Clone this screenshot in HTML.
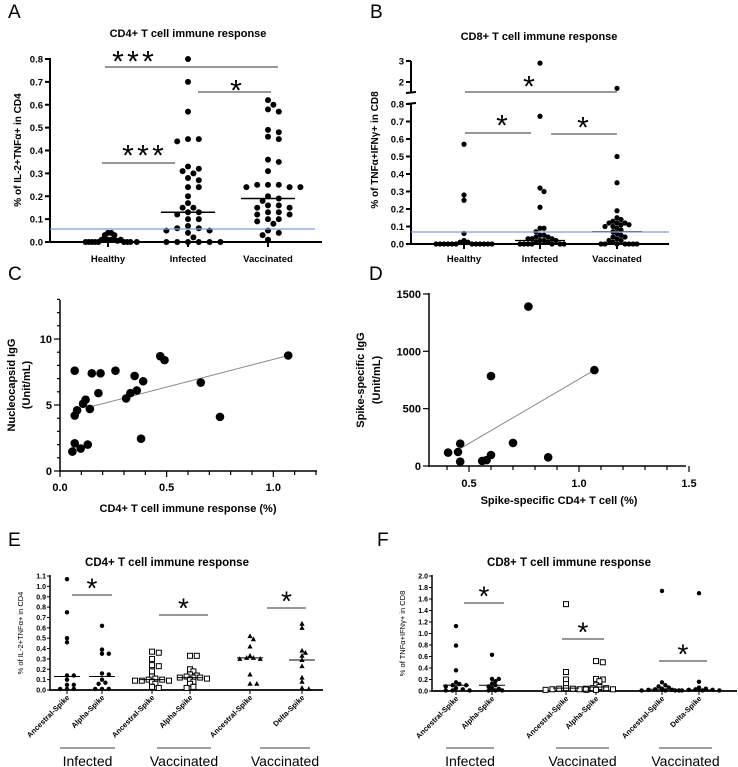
<!DOCTYPE html>
<html><head><meta charset="utf-8"><style>
body{margin:0;background:#fff}
svg{display:block;font-family:"Liberation Sans",Arial,sans-serif}
.b{font-weight:bold}
</style></head><body>
<svg id="fig" width="738" height="767" viewBox="0 0 738 767">
<g id="root"></g>
</svg>
<script>
// ---- Panel A data ----
const catsA = ["Healthy","Infected","Vaccinated"];
const healthyA = [0.04,0.04,0.03,0.03,0.01,0.01,0.01,0.01,0.01,0.01,0,0,0,0,0,0,0,0,0,0.005];
const infectedA = [0.80,0.70,0.57,0.45,0.45,0.44,0.33,0.32,0.31,0.30,0.28,0.27,0.24,0.24,0.20,0.17,0.15,0.15,0.13,0.13,0.12,0.10,0.10,0.07,0.06,0.06,0.05,0.05,0.04,0.02,0,0,0,0,0,0];
const vaccinatedA = [0.62,0.60,0.58,0.57,0.49,0.48,0.46,0.45,0.36,0.35,0.31,0.25,0.25,0.24,0.24,0.24,0.25,0.20,0.19,0.18,0.16,0.16,0.15,0.15,0.13,0.13,0.12,0.12,0.10,0.10,0.09,0.08,0.05,0.04,0.03,0.01];
const medA = [0, 0.13, 0.19];
const ticksA = [0,0.1,0.2,0.3,0.4,0.5,0.6,0.7,0.8];
// ---- Panel B data ----
const healthyB = [0.57,0.28,0.25,0.06,0.02,0.01,0.01,0,0,0,0,0,0,0,0,0,0,0,0];
const infectedB = [2.9,0.73,0.32,0.30,0.21,0.09,0.09,0.07,0.05,0.05,0.04,0.04,0.03,0.03,0.03,0.02,0.02,0.02,0.01,0.01,0,0,0,0,0,0,0];
const vaccinatedB = [1.7,0.50,0.35,0.19,0.15,0.14,0.13,0.12,0.12,0.12,0.11,0.11,0.10,0.10,0.09,0.08,0.07,0.06,0.05,0.04,0.04,0.03,0.02,0.02,0.01,0,0,0,0,0,0,0];
const medB = [0, 0.02, 0.07];
const ticksBLow = [0,0.1,0.2,0.3,0.4,0.5,0.6,0.7,0.8];
const ticksBHigh = [2,3];
// ---- Panel C data ----
const cX = [0.058,0.069,0.097,0.13,0.069,0.069,0.08,0.108,0.12,0.14,0.149,0.19,0.18,0.26,0.31,0.33,0.35,0.36,0.39,0.38,0.47,0.49,0.66,0.75,1.07];
const cY = [1.47,2.1,1.7,2.0,7.6,4.2,4.6,5.1,5.4,4.7,7.4,7.4,5.9,7.6,5.5,5.9,7.2,6.1,6.8,2.45,8.7,8.4,6.7,4.1,8.75];
const fitC = [[0.14,4.85],[1.07,8.75]];
const ticksCX = [0,0.5,1.0];
const ticksCY = [0,5,10];
// ---- Panel D data ----
const dX = [0.405,0.45,0.46,0.46,0.56,0.58,0.60,0.60,0.70,0.77,0.86,1.07];
const dY = [117,122,195,38,44,52,96,784,201,1390,76,836];
const fitD = [[0.45,140],[1.07,836]];
const ticksDX = [0.5,1.0,1.5];
const ticksDY = [0,500,1000,1500];
// ---- Panel E data ----
const catsE = ["Ancestral-Spike","Alpha-Spike","Ancestral-Spike","Alpha-Spike","Ancestral-Spike","Delta-Spike"];
const e0 = [1.07,0.75,0.50,0.46,0.14,0.14,0.10,0.05,0.05,0.01,0.01,0.01];
const e1 = [0.62,0.39,0.35,0.35,0.16,0.15,0.10,0.07,0.06,0.01,0.01,0.01];
const e2 = [0.37,0.36,0.30,0.24,0.23,0.18,0.13,0.11,0.10,0.10,0.09,0.09,0.09,0.08,0.06,0.03,0.02];
const e3 = [0.33,0.33,0.20,0.18,0.15,0.14,0.13,0.12,0.12,0.12,0.11,0.10,0.08,0.06,0.03,0.02];
const e4 = [0.52,0.49,0.42,0.33,0.31,0.31,0.30,0.30,0.15,0.06,0.06];
const e5 = [0.64,0.60,0.38,0.36,0.33,0.29,0.23,0.12,0.08,0.02,0.01];
const medE = [0.13,0.13,0.10,0.12,0.31,0.29];
const ticksE = [0,0.1,0.2,0.3,0.4,0.5,0.6,0.7,0.8,0.9,1.0,1.1];
// ---- Panel F data ----
const f0 = [1.13,0.79,0.36,0.15,0.12,0.10,0.10,0.08,0.05,0.03,0.01,0.01,0.01];
const f1 = [0.63,0.21,0.21,0.17,0.13,0.10,0.08,0.05,0.04,0.01,0.01,0.01];
const f2 = [1.51,0.33,0.20,0.12,0.05,0.04,0.04,0.03,0.03,0.02,0.02];
const f3 = [0.52,0.50,0.21,0.20,0.17,0.10,0.07,0.05,0.05,0.04,0.03,0.02];
const f4 = [1.74,0.15,0.10,0.08,0.06,0.04,0.03,0.02,0.02,0.01,0.01,0.01];
const f5 = [1.70,0.16,0.06,0.04,0.03,0.02,0.02,0.01,0.01,0.01,0.01];
const medF = [0.10,0.10,0.05,0.07,0.03,0.02];
const ticksF = [0,0.2,0.4,0.6,0.8,1.0,1.2,1.4,1.6,1.8,2.0];
const groupLabels = ["Infected","Vaccinated","Vaccinated"];

const NS="http://www.w3.org/2000/svg";
const root=document.getElementById('root');
function el(tag,attrs,parent,txt){const e=document.createElementNS(NS,tag);for(const k in attrs)e.setAttribute(k,attrs[k]);if(txt!==undefined)e.textContent=txt;(parent||root).appendChild(e);return e;}
function grp(name){const g=el('g',{});return g;}
function line(g,x1,y1,x2,y2,st,w){return el('line',{x1,y1,x2,y2,stroke:st||'#000','stroke-width':w||1},g);}
function txt(g,x,y,s,size,opts){const o=Object.assign({x,y,'font-size':size,fill:'#000'},opts||{});return el('text',o,g,s);}
function swarm(vals,cx,ys,minD,step){
  const placed=[];const out=[];
  const sorted=vals.slice().sort((a,b)=>b-a);
  for(const v of sorted){const y=ys(v);let x=cx;
    for(let i=0;i<80;i++){const off=(i===0?0:Math.ceil(i/2)*step*(i%2?1:-1));x=cx+off;
      if(placed.every(p=>Math.hypot(p[0]-x,p[1]-y)>=minD))break;}
    placed.push([x,y]);out.push([x,y,v]);}
  return out;}
function star(g,x,y,size){const t=txt(g,x,y+size*0.45,'*',size,{'text-anchor':'middle'});}
function sig(g,x1,x2,y,sx,sy,n,size){line(g,x1,y,x2,y,'#777',1.5);const s=size||30;star(g,sx,sy,s);if(n>1){star(g,sx-15,sy,s);star(g,sx+15,sy,s);}}
function letter(g,s,x,y){const t=txt(g,x,y,s,19);}

// ================= Panel A =================
(function(){
const g=grp('panel-a');letter(g,'A',8,18);
const ya=v=>242-v*228.75;const xa=[108,188,268];
const t=txt(g,188,37,'CD4+ T cell immune response',11,{'text-anchor':'middle','class':'b'});
line(g,50,58,50,243,'#000',2);line(g,49,242,322,242,'#000',2);
ticksA.forEach(v=>{line(g,45,ya(v),50,ya(v),'#000',2);txt(g,43,ya(v)+3.5,v.toFixed(1),9.5,{'text-anchor':'end','class':'b'});});
catsA.forEach((c,i)=>{line(g,xa[i],242,xa[i],247,'#000',2);const l=txt(g,xa[i],262,c,9.5,{'text-anchor':'middle','class':'b'});});
const yl=txt(g,0,0,'% of IL-2+TNFα+ in CD4',10,{'text-anchor':'middle','class':'b',transform:'translate(21,150) rotate(-90)'});
[healthyA,infectedA,vaccinatedA].forEach((arr,i)=>{swarm(arr,xa[i],ya,i===0?3.2:6,i===0?3.2:5.4).forEach(p=>{const c=el('circle',{cx:p[0],cy:p[1],r:3,fill:'#000'},g);});
 if(i>0){const m=line(g,xa[i]-27,ya(medA[i]),xa[i]+27,ya(medA[i]),'#000',1.5);}});
const bl=line(g,50,229,315,229,'#7b9fe0',1.3);
sig(g,105,278,67,133,58,3);sig(g,198,271,92,236,87,1);sig(g,102,175,163,143,152,3);
})();

// ================= Panel B =================
(function(){
const g=grp('panel-b');letter(g,'B',370,18);
const yb=v=>v<=0.8?244-v*175:82-(v-2)*21;const xb=[464,540,617];
const t=txt(g,539,40,'CD8+ T cell immune response',11,{'text-anchor':'middle','class':'b'});
line(g,411,61,411,93,'#000',2);line(g,411,104,411,245,'#000',2);line(g,410,244,669,244,'#000',2);
line(g,406,93,416,92,'#000',2);line(g,406,104,416,103,'#000',2);
ticksBLow.forEach(v=>{line(g,406,yb(v),411,yb(v),'#000',2);txt(g,404,yb(v)+3.5,v.toFixed(1),9.5,{'text-anchor':'end','class':'b'});});
ticksBHigh.forEach(v=>{line(g,406,yb(v),411,yb(v),'#000',2);txt(g,404,yb(v)+3.5,String(v),9.5,{'text-anchor':'end','class':'b'});});
catsA.forEach((c,i)=>{line(g,xb[i],244,xb[i],249,'#000',2);const l=txt(g,xb[i],262,c,9.5,{'text-anchor':'middle','class':'b'});});
const yl=txt(g,0,0,'% of TNFα+IFNγ+ in CD8',10,{'text-anchor':'middle','class':'b',transform:'translate(378,150) rotate(-90)'});
[healthyB,infectedB,vaccinatedB].forEach((arr,i)=>{swarm(arr,xb[i],yb,4,4).forEach(p=>{const c=el('circle',{cx:p[0],cy:p[1],r:2.6,fill:'#000'},g);});
 const m=line(g,xb[i]-25,yb(medB[i]),xb[i]+25,yb(medB[i]),'#000',1.3);});
const bl=line(g,411,232,669,232,'#7b9fe0',1.3);
sig(g,465,617,92,529,83,1);sig(g,465,531,133,502,122,1);sig(g,551,617,134,583,124,1);
})();

// ================= Panel C =================
(function(){
const g=grp('panel-c');letter(g,'C',8,280);
const xc=v=>60+v*213.3, yc=v=>471-v*13.2;
line(g,60,300,60,472,'#000',1.5);line(g,60,471,317,471,'#000',1.5);
for(let v=0;v<=13;v++){line(g,v%5===0?54:57,yc(v),60,yc(v),'#000',1.2);}
for(let v=0;v<=12;v++){const x=xc(v/10);line(g,x,471,x,v%5===0?477:475,'#000',1.2);}
ticksCY.forEach(v=>txt(g,52,yc(v)+4,String(v),11,{'text-anchor':'end','class':'b'}));
ticksCX.forEach(v=>txt(g,xc(v),491,v.toFixed(1),11,{'text-anchor':'middle','class':'b'}));
const yl=txt(g,0,0,'Nucleocapsid IgG',11,{'text-anchor':'middle','class':'b',transform:'translate(15,385) rotate(-90)'});
txt(g,0,0,'(Unit/mL)',11,{'text-anchor':'middle','class':'b',transform:'translate(30,385) rotate(-90)'});
const xl=txt(g,188,512,'CD4+ T cell immune response (%)',11,{'text-anchor':'middle','class':'b'});
const f=line(g,xc(fitC[0][0]),yc(fitC[0][1]),xc(fitC[1][0]),yc(fitC[1][1]),'#888',1);
cX.forEach((x,i)=>{const c=el('circle',{cx:xc(x),cy:yc(cY[i]),r:4.3,fill:'#000'},g);});
})();

// ================= Panel D =================
(function(){
const g=grp('panel-d');letter(g,'D',369,280);
const xd=v=>469+(v-0.5)*220, yd=v=>466-v*0.1147;
line(g,429,293,429,467,'#000',1.5);line(g,429,466,686,466,'#000',1.5);
ticksDY.forEach(v=>{line(g,423,yd(v),429,yd(v),'#000',1.2);txt(g,421,yd(v)+4,String(v),11,{'text-anchor':'end','class':'b'});});
for(let v=4;v<=15;v++){const x=xd(v/10);line(g,x,466,x,v%5===0?472:470,'#000',1.2);}
ticksDX.forEach(v=>txt(g,xd(v),487,v.toFixed(1),11,{'text-anchor':'middle','class':'b'}));
const yl=txt(g,0,0,'Spike-specific IgG',11,{'text-anchor':'middle','class':'b',transform:'translate(364,380) rotate(-90)'});
txt(g,0,0,'(Unit/mL)',11,{'text-anchor':'middle','class':'b',transform:'translate(380,380) rotate(-90)'});
const xl=txt(g,559,504,'Spike-specific CD4+ T cell (%)',11,{'text-anchor':'middle','class':'b'});
const f=line(g,xd(fitD[0][0]),yd(fitD[0][1]),xd(fitD[1][0]),yd(fitD[1][1]),'#888',1);
dX.forEach((x,i)=>{const c=el('circle',{cx:xd(x),cy:yd(dY[i]),r:4.3,fill:'#000'},g);});
})();

// ================= Panels E & F =================
function marker(g,type,x,y){let m;
 if(type==='c')m=el('circle',{cx:x,cy:y,r:2.2,fill:'#000'},g);
 else if(type==='s')m=el('rect',{x:x-2.5,y:y-2.5,width:5,height:5,fill:'#fff',stroke:'#000','stroke-width':1},g);
 else m=el('polygon',{points:`${x},${y-2.8} ${x-2.6},${y+2} ${x+2.6},${y+2}`,fill:'#000'},g);
 }
function catPanel(name,L,ox,title,ylab,ys,ticks,xs,sets,types,meds,axisEnd,sigs,ul){
 const g=grp(name);letter(g,L,ox+8,546);
 const t=txt(g,ox+(name==='panel-e'?167:200),566,title,11.5,{'text-anchor':'middle','class':'b'});
 const ax=xs.axis;const y0=ys(0);
 line(g,ax,ys(ticks[ticks.length-1])-1,ax,y0+1,'#000',1.5);line(g,ax,y0,axisEnd,y0,'#000',1.8);
 ticks.forEach(v=>{line(g,ax-3,ys(v),ax,ys(v),'#000',1);txt(g,ax-4,ys(v)+2.5,v.toFixed(1),7,{'text-anchor':'end','class':'b'});});
 const yl=txt(g,0,0,ylab,7.5,{'text-anchor':'middle',transform:`translate(${ax-27},${(ys(ticks[ticks.length-1])+y0)/2}) rotate(-90)`});
 xs.c.forEach((cx,i)=>{line(g,cx,y0,cx,y0+4,'#000',1);
  const l=txt(g,0,0,catsE[i],7.5,{'text-anchor':'end','class':'b',transform:`translate(${cx+3},${y0+8}) rotate(-45)`});
  swarm(sets[i],cx,ys,3.6,3.4).forEach(p=>marker(g,types[i],p[0],p[1]));
  const m=line(g,cx-13,ys(meds[i]),cx+13,ys(meds[i]),'#000',1);});
 sigs.forEach(s=>sig(g,s[0],s[1],s[2],(s[0]+s[1])/2,s[2]-10,1,28));
 ul.forEach((u,i)=>{line(g,u[0],748,u[1],748,'#000',0.8);const gl=txt(g,(u[0]+u[1])/2,766,groupLabels[i],14,{'text-anchor':'middle'});});
}
catPanel('panel-e','E',0,'CD4+ T cell immune response','% of IL-2+TNFα+ in CD4',v=>690-v*103.6,ticksE,{axis:50,c:[67,102,152,190,250,302]},[e0,e1,e2,e3,e4,e5],['c','c','s','s','t','t'],medE,323,[[72,112,595],[159,208,615],[267,306,608]],[[60,115],[157,211],[260,310]]);
catPanel('panel-f','F',369,'CD8+ T cell immune response','% of TNFα+IFNγ+ in CD8',v=>691-v*57.5,ticksF,{axis:432,c:[456,492,566,596,662,699]},[f0,f1,f2,f3,f4,f5],['c','c','s','s','c','c'],medF,737,[[464,504,603],[562,604,639],[659,707,661]],[[446,494],[556,609],[659,712]]);
</script>
</body></html>
